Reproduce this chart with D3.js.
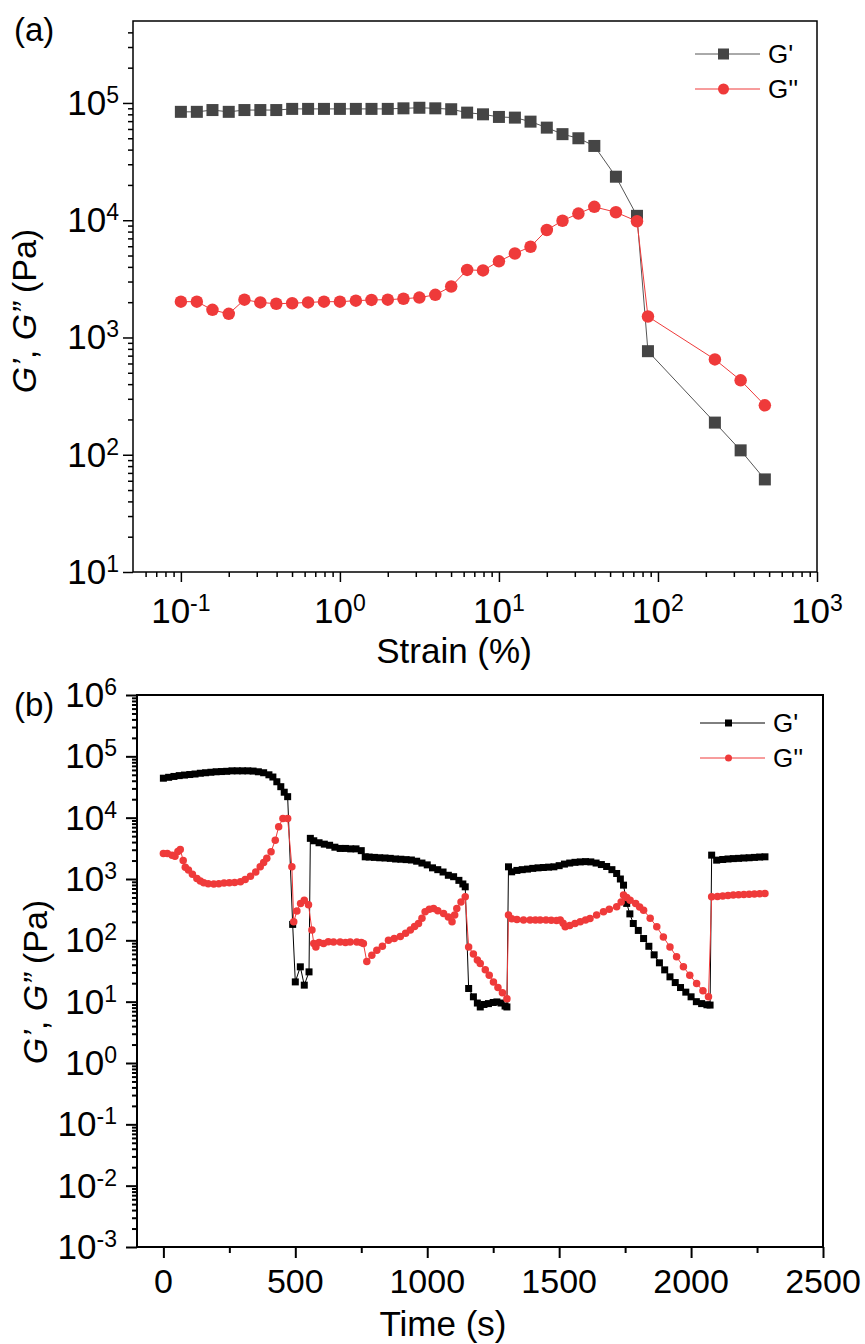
<!DOCTYPE html>
<html lang="en">
<head>
    <meta charset="UTF-8">
    <title>G', G'' strain and time sweeps</title>
    <script src="https://cdn.jsdelivr.net/npm/d3@7"></script>
    <style>
        body {
            margin: 0;
            background: #fff;
        }

        svg text {
            font-family: "Liberation Sans", Arial, sans-serif;
            fill: #000;
        }

        .tick line {
            stroke: #000;
        }

        .frame {
            fill: none;
            stroke: #000;
        }
    </style>
</head>
<body>
<svg id="fig" width="865" height="1344"></svg>
<script>
    // (a) amplitude sweep
    var strainA = [0.1, 0.126, 0.158, 0.2, 0.251, 0.316, 0.398, 0.501, 0.631, 0.794,
        1, 1.26, 1.58, 2, 2.51, 3.16, 3.98, 5.01, 6.31, 7.94,
        10, 12.6, 15.8, 20, 25.1, 31.6, 39.8, 54.4, 73.8, 86.5, 228, 331, 470];
    var gPrimeA = [84000, 84000, 87000, 84000, 87000, 87000, 87000, 89000, 89000, 89000,
        89000, 89000, 89000, 89000, 90000, 91000, 90000, 88400, 82700, 80000,
        76000, 75000, 69300, 61600, 54200, 50000, 43000, 23500, 10900, 764, 188, 109, 61.6];
    var gDoubleA = [2020, 2020, 1720, 1590, 2100, 1990, 1940, 1960, 1990, 2020,
        2020, 2060, 2090, 2100, 2140, 2190, 2310, 2720, 3770, 3730,
        4460, 5200, 5940, 8250, 9900, 11400, 13000, 11700, 9800, 1510, 650, 431, 264];

    // (b) step strain time sweep
    var timeGp = [0, 20, 40, 60, 80, 100, 120, 140, 160, 180, 200, 220, 240, 260, 280, 300, 320, 340, 360, 380,
        400, 415, 430, 445, 458, 471, 490, 500, 519, 534, 552,
        557, 570, 590, 610, 630, 650, 670, 690, 710, 730, 750, 765, 780, 800, 820, 840, 860, 880, 900, 920,
        940, 960, 980, 1000, 1020, 1040, 1060, 1080, 1100, 1120, 1135, 1144,
        1157, 1175, 1190, 1201, 1215, 1232, 1250, 1264, 1280, 1295, 1302,
        1308, 1320, 1340, 1360, 1380, 1400, 1420, 1440, 1460, 1480, 1500, 1520, 1540, 1560, 1580, 1600,
        1620, 1640, 1660, 1680, 1700, 1718, 1732, 1744,
        1756, 1768, 1781, 1800, 1820, 1840, 1860, 1880, 1900, 1920, 1940, 1960, 1980, 2000, 2020, 2040, 2060, 2072,
        2078, 2097, 2120, 2140, 2160, 2180, 2200, 2220, 2240, 2260, 2280];
    var gPrimeB = [44000, 45500, 47000, 48500, 49500, 50500, 51500, 53000, 54000, 55000, 56000, 56500, 57000, 58000, 58000, 58000, 58000, 57500, 56000, 54000,
        50000, 46000, 38500, 32000, 26000, 22000, 182, 21, 37, 18.6, 30.6,
        4600, 4200, 3900, 3700, 3550, 3300, 3150, 3150, 3100, 3100, 2900, 2300, 2280, 2250, 2220, 2200, 2170, 2120, 2100, 2070,
        2040, 1950, 1820, 1700, 1520, 1420, 1300, 1150, 1090, 950, 830, 746,
        16.4, 12, 9.5, 8.2, 9, 9.3, 9.7, 9.9, 9.5, 8.5, 8.2,
        1580, 1310, 1380, 1420, 1450, 1490, 1520, 1540, 1560, 1580, 1650, 1750, 1820, 1870, 1900, 1920,
        1900, 1820, 1720, 1600, 1420, 1230, 1000, 794,
        400, 270, 188, 145, 107, 80, 58, 43, 33, 25.4, 20.5, 17, 14.3, 12, 10, 9.3, 8.9, 8.8,
        2450, 2030, 2080, 2120, 2150, 2170, 2200, 2220, 2250, 2280, 2300];
    var timeGpp = [0, 15, 33, 44, 55, 64, 75, 83, 95, 110, 127, 140, 153, 170, 191, 210, 230, 250, 270, 292,
        310, 330, 350, 367, 380, 392, 408, 424, 437, 453, 471, 487, 494, 506, 520, 534, 550,
        563, 570, 578, 590, 607, 625, 645, 670, 690, 708, 733, 750, 758, 771, 790, 809, 830, 853, 875, 898,
        918, 936, 952, 967, 980, 992, 1008, 1024, 1040, 1062, 1080, 1094, 1104, 1112, 1128, 1144,
        1157, 1175, 1190, 1201, 1220, 1235, 1251, 1268, 1285, 1302,
        1308, 1320, 1340, 1365, 1390, 1410, 1428, 1450, 1470, 1490, 1504, 1515, 1523, 1540, 1560, 1580, 1600, 1617,
        1642, 1668, 1690, 1718, 1735, 1744,
        1756, 1769, 1790, 1805, 1820, 1845, 1870, 1895, 1920, 1945, 1971, 1995, 2021, 2045, 2066,
        2078, 2100, 2120, 2140, 2160, 2180, 2200, 2220, 2240, 2260, 2280];
    var gDoubleB = [2600, 2600, 2450, 2360, 2800, 3040, 2000, 1550, 1400, 1200, 1020, 930, 867, 840, 826, 840, 860, 870, 880, 900,
        980, 1110, 1300, 1580, 1850, 2170, 2780, 4300, 7100, 9700, 9700, 1580, 200, 300, 400, 450, 380,
        147, 89, 78, 92, 89, 95, 94, 94, 92, 94, 94, 92, 89, 45, 57, 69, 80, 100, 107, 115,
        130, 147, 168, 188, 230, 292, 320, 331, 305, 275, 240, 200, 260, 331, 420, 513,
        78, 60, 48, 42, 33, 27, 21, 17, 14, 11.2,
        258, 225, 218, 214, 214, 214, 214, 214, 212, 210, 214, 190, 166, 175, 188, 200, 215, 228,
        260, 292, 320, 352, 420, 546,
        500, 452, 400, 350, 309, 230, 166, 113, 78, 54, 37, 27, 19.8, 15, 12,
        513, 520, 530, 540, 546, 552, 560, 566, 572, 577, 580];

    var timeTicks = [0, 500, 1000, 1500, 2000, 2500];
    var timeMinor = [250, 750, 1250, 1750, 2250];

    var red = '#ef3a3a';
    var svg = d3.select('#fig');

    function zip(xs, ys) {
        return xs.map(function (x, i) { return [x, ys[i]]; });
    }

    function logMinors(domain) {
        var out = [];
        var lo = Math.floor(Math.log10(domain[0])), hi = Math.ceil(Math.log10(domain[1]));
        for (var e = lo; e <= hi; e++) {
            for (var k = 2; k <= 9; k++) {
                var v = k * Math.pow(10, e);
                if (v > domain[0] * 1.0001 && v < domain[1] * 0.9999) out.push(v);
            }
        }
        return out;
    }

    function decades(domain) {
        var out = [];
        for (var e = Math.ceil(Math.log10(domain[0])); e <= Math.floor(Math.log10(domain[1])); e++) out.push(e);
        return out;
    }

    // "10" with a raised exponent
    function powLabel(text, exp, supSize, rise) {
        text.append('tspan').text('10');
        text.append('tspan').attr('dy', -rise).style('font-size', supSize + 'px').text(exp);
    }

    function tickAxis(axisFn, scale, vals, size, transform, sw) {
        var g = svg.append('g')
            .attr('transform', transform)
            .call(axisFn(scale).tickValues(vals).tickSize(size).tickSizeOuter(0).tickFormat(''));
        g.select('.domain').remove();
        g.selectAll('.tick line').attr('stroke-width', sw);
        return g;
    }

    function frame(x0, y0, x1, y1, sw) {
        svg.append('rect').attr('class', 'frame')
            .attr('x', x0).attr('y', y0)
            .attr('width', x1 - x0).attr('height', y1 - y0)
            .attr('stroke-width', sw);
    }

    function series(x, y, pts, color, lineColor, shape, size) {
        var line = d3.line().x(function (d) { return x(d[0]); }).y(function (d) { return y(d[1]); });
        svg.append('path').datum(pts)
            .attr('d', line)
            .attr('fill', 'none')
            .attr('stroke', lineColor)
            .attr('stroke-width', 1);
        var g = svg.append('g').attr('fill', color);
        if (shape === 'square') {
            g.selectAll('rect').data(pts).enter().append('rect')
                .attr('x', function (d) { return x(d[0]) - size / 2; })
                .attr('y', function (d) { return y(d[1]) - size / 2; })
                .attr('width', size).attr('height', size);
        } else {
            g.selectAll('circle').data(pts).enter().append('circle')
                .attr('cx', function (d) { return x(d[0]); })
                .attr('cy', function (d) { return y(d[1]); })
                .attr('r', size / 2);
        }
    }

    function legend(x0, x1, y0, gap, items, size) {
        items.forEach(function (it, i) {
            var y = y0 + i * gap, xm = (x0 + x1) / 2 - 4;
            svg.append('line').attr('x1', x0).attr('x2', x1).attr('y1', y).attr('y2', y)
                .attr('stroke', it.line).attr('stroke-width', 1);
            if (it.shape === 'square') {
                svg.append('rect').attr('x', xm - size / 2).attr('y', y - size / 2)
                    .attr('width', size).attr('height', size).attr('fill', it.color);
            } else {
                svg.append('circle').attr('cx', xm).attr('cy', y).attr('r', size / 2).attr('fill', it.color);
            }
            svg.append('text').attr('x', x1 + 8).attr('y', y + 9)
                .style('font-size', '26px').text(it.label);
        });
    }

    function yTitle(x, y) {
        var t = svg.append('text')
            .attr('transform', 'translate(' + x + ',' + y + ') rotate(-90)')
            .attr('text-anchor', 'middle')
            .style('font-size', '34px');
        t.append('tspan').style('font-style', 'italic').text('G\u2019');
        t.append('tspan').text(', ');
        t.append('tspan').style('font-style', 'italic').text('G\u201D');
        t.append('tspan').text(' (Pa)');
    }

    // ---------- panel (a) ----------
    var aL = 133, aT = 21, aR = 817, aB = 572;
    var xA = d3.scaleLog().domain([0.05, 1000]).range([aL, aR]);
    var yA = d3.scaleLog().domain([10, 5e5]).range([aB, aT]);

    tickAxis(d3.axisBottom, xA, logMinors(xA.domain()), 5, 'translate(0,' + aB + ')', 1.5);
    tickAxis(d3.axisBottom, xA, decades(xA.domain()).map(function (e) { return Math.pow(10, e); }), 10, 'translate(0,' + aB + ')', 1.5);
    tickAxis(d3.axisLeft, yA, logMinors(yA.domain()), 5, 'translate(' + aL + ',0)', 1.5);
    tickAxis(d3.axisLeft, yA, decades(yA.domain()).map(function (e) { return Math.pow(10, e); }), 10, 'translate(' + aL + ',0)', 1.5);
    frame(aL, aT, aR, aB, 1.5);

    decades(xA.domain()).forEach(function (e) {
        var t = svg.append('text').attr('x', xA(Math.pow(10, e))).attr('y', 623)
            .attr('text-anchor', 'middle').style('font-size', '35px');
        powLabel(t, e, 23, 12);
    });
    decades(yA.domain()).forEach(function (e) {
        var t = svg.append('text').attr('x', 119).attr('y', yA(Math.pow(10, e)) + 12)
            .attr('text-anchor', 'end').style('font-size', '35px');
        powLabel(t, e, 23, 12);
    });

    series(xA, yA, zip(strainA, gPrimeA), '#454545', '#555', 'square', 12);
    series(xA, yA, zip(strainA, gDoubleA), red, red, 'circle', 12.5);

    legend(695, 760, 54, 35, [
        {label: "G'", color: '#454545', line: '#555', shape: 'square'},
        {label: "G''", color: red, line: red, shape: 'circle'}
    ], 11);

    svg.append('text').attr('x', 454).attr('y', 663).attr('text-anchor', 'middle')
        .style('font-size', '35px').text('Strain (%)');
    yTitle(36, 311);
    svg.append('text').attr('x', 14).attr('y', 41).style('font-size', '33px').text('(a)');

    // ---------- panel (b) ----------
    var bL = 137, bT = 695, bR = 823, bB = 1247;
    var xB = d3.scaleLinear().domain([-100, 2500]).range([bL, bR]);
    var yB = d3.scaleLog().domain([1e-3, 1e6]).range([bB, bT]);

    tickAxis(d3.axisBottom, xB, timeMinor, 6, 'translate(0,' + bB + ')', 2);
    tickAxis(d3.axisBottom, xB, timeTicks, 11, 'translate(0,' + bB + ')', 2);
    tickAxis(d3.axisLeft, yB, logMinors(yB.domain()), 5, 'translate(' + bL + ',0)', 2);
    tickAxis(d3.axisLeft, yB, decades(yB.domain()).map(function (e) { return Math.pow(10, e); }), 11, 'translate(' + bL + ',0)', 2);
    frame(bL, bT, bR, bB, 2);

    timeTicks.forEach(function (v) {
        svg.append('text').attr('x', xB(v)).attr('y', 1293)
            .attr('text-anchor', 'middle').style('font-size', '34px').text(v);
    });
    decades(yB.domain()).forEach(function (e) {
        var t = svg.append('text').attr('x', 117).attr('y', yB(Math.pow(10, e)) + 12)
            .attr('text-anchor', 'end').style('font-size', '35px');
        powLabel(t, e, 23, 12);
    });

    series(xB, yB, zip(timeGp, gPrimeB), '#000', '#000', 'square', 7);
    series(xB, yB, zip(timeGpp, gDoubleB), red, red, 'circle', 7.5);

    legend(700, 765, 723, 35, [
        {label: "G'", color: '#000', line: '#000', shape: 'square'},
        {label: "G''", color: red, line: red, shape: 'circle'}
    ], 7);

    svg.append('text').attr('x', 443).attr('y', 1336).attr('text-anchor', 'middle')
        .style('font-size', '35px').text('Time (s)');
    yTitle(47, 982);
    svg.append('text').attr('x', 14).attr('y', 716).style('font-size', '33px').text('(b)');
</script>
</body>
</html>
